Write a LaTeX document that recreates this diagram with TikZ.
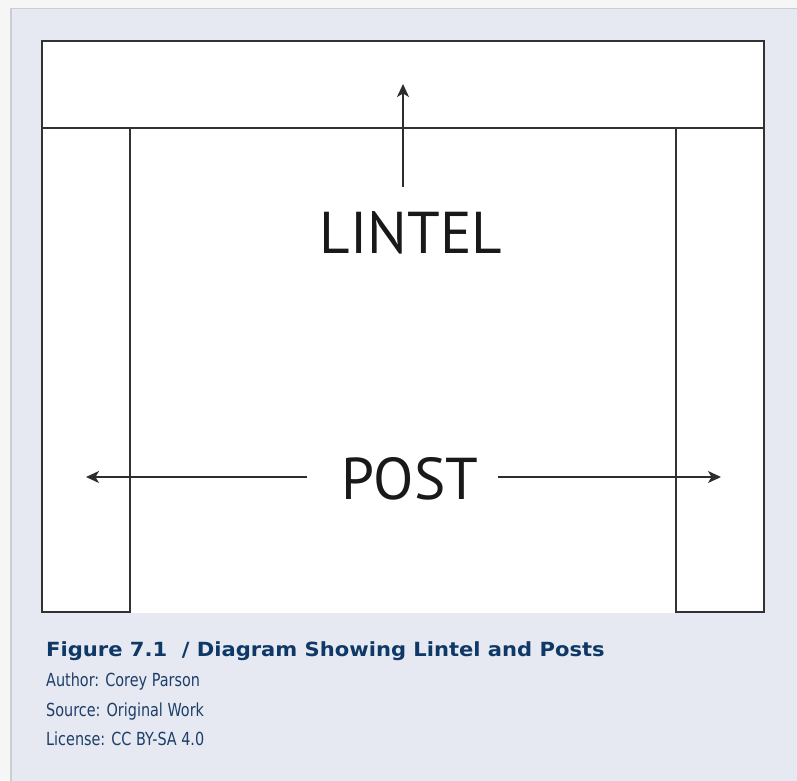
\documentclass[tikz,border=0pt]{standalone}
\usepackage{fontspec}
\usetikzlibrary{arrows.meta}
\newfontfamily\labelfont{PT Sans}
\newfontfamily\titlefont[FakeStretch=1.08]{DejaVu Sans}
\newfontfamily\bodyfont[FakeStretch=0.8]{DejaVu Sans}
\definecolor{outerbg}{RGB}{246,246,246}
\definecolor{panelbg}{RGB}{230,233,242}
\definecolor{panelline}{RGB}{205,205,208}
\definecolor{frameline}{RGB}{50,50,52}
\definecolor{arrowcol}{RGB}{45,45,47}
\definecolor{titlecol}{RGB}{14,56,102}
\definecolor{bodycol}{RGB}{30,62,104}
\tikzset{
  framebox/.style={draw=frameline, line width=1.4pt, inner sep=0pt, outer sep=0pt, anchor=north west},
  biglabel/.style={font=\labelfont\fontsize{59}{59}\selectfont, text=black!90, inner sep=0pt, anchor=base},
  arrowline/.style={draw=arrowcol, line width=1.3pt, -{Stealth[length=13pt,width=12pt,inset=3.5pt]}},
  captitle/.style={font=\titlefont\bfseries\fontsize{19.5}{19.5}\selectfont, text=titlecol, inner sep=0pt, anchor=base west},
  capbody/.style={font=\bodyfont\fontsize{18}{18}\selectfont, text=bodycol, inner sep=0pt, anchor=base west}
}
\begin{document}
\begin{tikzpicture}[x=1pt,y=-1pt]
\useasboundingbox (0,0) rectangle (797,780);
\fill[outerbg] (0,0) rectangle (797,780);
\fill[panelbg] (10,8) rectangle (800,785);
\draw[panelline, line width=1.6pt] (10.8,785) -- (10.8,8.5) -- (800,8.5);
% white drawing area
\fill[white] (42,41) rectangle (764,613);
% lintel and posts
\node[framebox, minimum width=722pt, minimum height=87pt] (lintel) at (42,41) {};
\node[framebox, minimum width=88pt, minimum height=484pt] (leftpost) at (42,128) {};
\node[framebox, minimum width=88pt, minimum height=484pt] (rightpost) at (676,128) {};
% labels
\node[biglabel] (lintelLabel) at (411,253) {LINTEL};
\node[biglabel] (postLabel) at (410,499) {POST};
% arrows
\coordinate (lintelTail) at (403,187);
\coordinate (lintelHead) at (403,84);
\draw[arrowline] (lintelTail) -- (lintelHead);
\coordinate (postLeftTail) at (307,477);
\coordinate (postLeftHead) at (86,477);
\coordinate (postRightTail) at (498,477);
\coordinate (postRightHead) at (721,477);
\draw[arrowline] (postLeftTail) -- (postLeftHead);
\draw[arrowline] (postRightTail) -- (postRightHead);
% caption
\node[captitle] (capTitle) at (46,656) {Figure 7.1 \ / Diagram Showing Lintel and Posts};
\node[capbody] (capAuthor) at (46,686) {Author: Corey Parson};
\node[capbody] (capSource) at (46,716) {Source: Original Work};
\node[capbody] (capLicense) at (46,745) {License: CC BY-SA 4.0};
\end{tikzpicture}
\end{document}
